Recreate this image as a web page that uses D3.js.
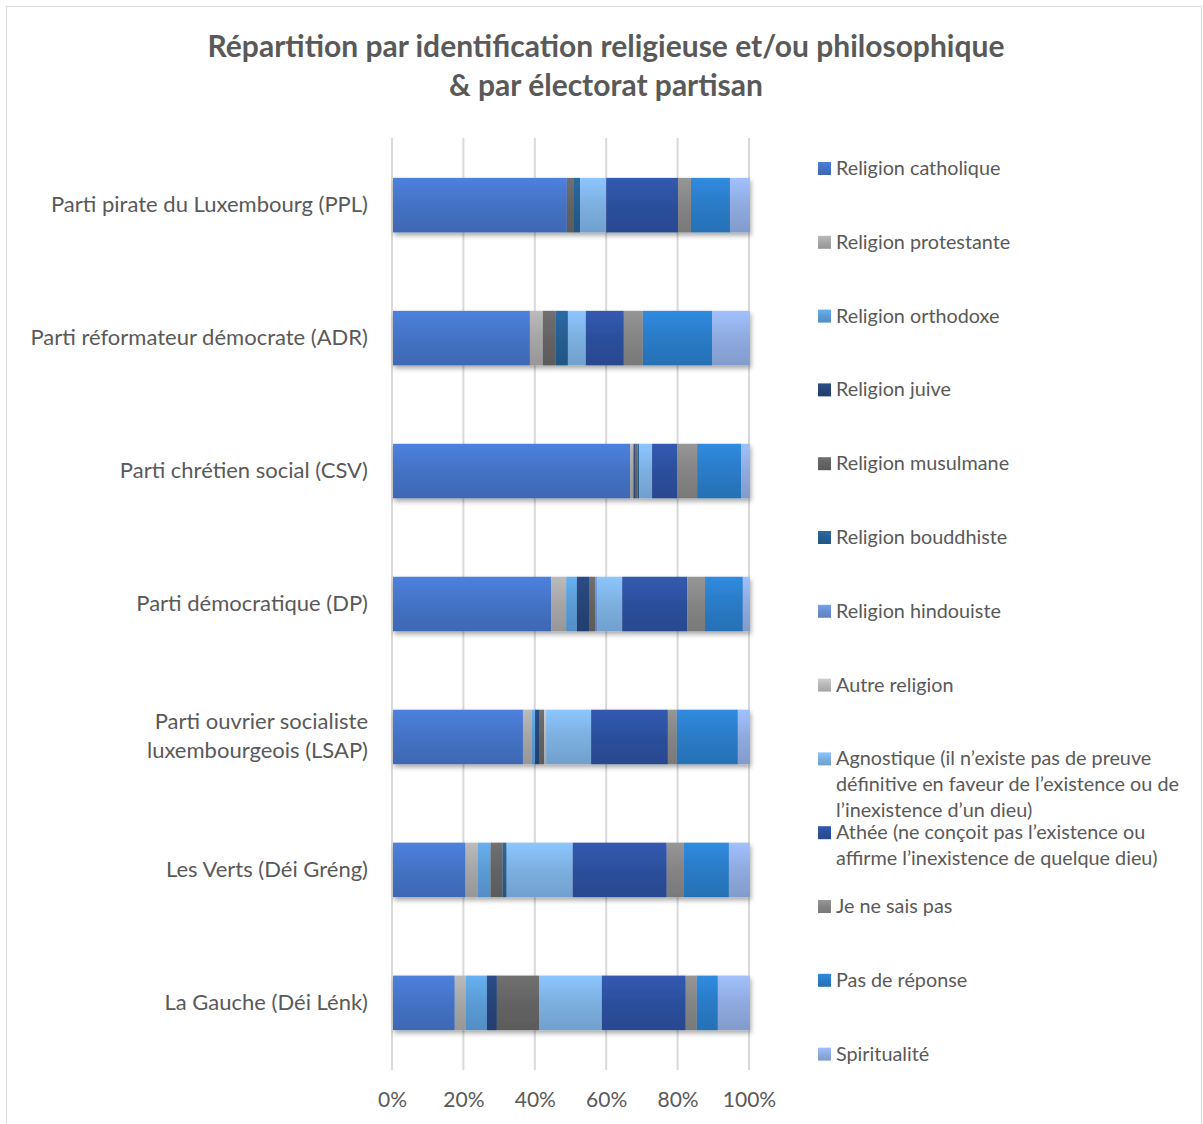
<!doctype html>
<html lang="fr">
<head>
    <meta charset="UTF-8">
    <script src="https://cdnjs.cloudflare.com/ajax/libs/d3/7.8.5/d3.min.js"></script>
    <title>Répartition par identification religieuse</title>
    <style>
        body { margin: 0; background: #fff; }
        text { font-family: Lato, "Open Sans", sans-serif; fill: #595959; }
    </style>
</head>
<body>
<div id="chart"></div>

<script>
    const partis = [
        "Parti pirate du Luxembourg (PPL)",
        "Parti réformateur démocrate (ADR)",
        "Parti chrétien social (CSV)",
        "Parti démocratique (DP)",
        "Parti ouvrier socialiste luxembourgeois (LSAP)",
        "Les Verts (Déi Gréng)",
        "La Gauche (Déi Lénk)"
    ];

    const seriesNames = [
        "Religion catholique",
        "Religion protestante",
        "Religion orthodoxe",
        "Religion juive",
        "Religion musulmane",
        "Religion bouddhiste",
        "Religion hindouiste",
        "Autre religion",
        "Agnostique (il n’existe pas de preuve définitive en faveur de l’existence ou de l’inexistence d’un dieu)",
        "Athée (ne conçoit pas l’existence ou affirme l’inexistence de quelque dieu)",
        "Je ne sais pas",
        "Pas de réponse",
        "Spiritualité"
    ];

    // values per series, in the order of partis (%)
    const catholique  = [48.6, 38.2, 66.4, 44.3, 36.4, 20.3, 17.3];
    const protestante = [0.0, 3.6, 0.9, 4.2, 2.5, 3.4, 3.1];
    const orthodoxe   = [0.0, 0.0, 0.0, 3.0, 0.9, 3.6, 5.9];
    const juive       = [0.0, 0.0, 0.4, 3.4, 1.1, 0.0, 2.8];
    const musulmane   = [2.0, 3.5, 0.8, 1.7, 1.4, 3.4, 11.8];
    const bouddhiste  = [1.7, 3.5, 0.4, 0.0, 0.0, 1.1, 0.0];
    const hindouiste  = [0.0, 0.0, 0.0, 0.6, 0.0, 0.0, 0.0];
    const autre       = [0.0, 0.0, 0.0, 0.0, 0.6, 0.0, 0.0];
    const agnostique  = [7.3, 5.0, 3.6, 7.0, 12.6, 18.5, 17.6];
    const athee       = [20.1, 10.6, 7.0, 18.2, 21.5, 26.3, 23.5];
    const nsp         = [3.6, 5.3, 5.6, 5.0, 2.5, 4.8, 3.1];
    const pasReponse  = [10.9, 19.3, 12.3, 10.6, 17.1, 12.6, 5.9];
    const spiritualite = [5.6, 10.6, 2.5, 2.0, 3.4, 5.9, 9.0];

    const tickValues = [0, 0.2, 0.4, 0.6, 0.8, 1];

    const colors = ["#4472c4", "#a5a5a5", "#5b9bd5", "#264478", "#636363", "#255e91",
        "#698ed0", "#b7b7b7", "#7cafe0", "#2c4f9c", "#848484", "#2a7bc6", "#8eaadf"];

    const allSeries = [catholique, protestante, orthodoxe, juive, musulmane, bouddhiste,
        hindouiste, autre, agnostique, athee, nsp, pasReponse, spiritualite];

    const table = partis.map((p, i) => {
        const row = {parti: p};
        seriesNames.forEach((s, j) => row[s] = allSeries[j][i]);
        return row;
    });

    const W = 1203, H = 1124;
    const plot = {left: 392, right: 749, top: 138, bottom: 1070};

    const svg = d3.select("#chart").append("svg")
        .attr("width", W)
        .attr("height", H);

    const defs = svg.append("defs");
    colors.forEach((c, i) => {
        const g = defs.append("linearGradient")
            .attr("id", "grad" + i)
            .attr("x1", 0).attr("y1", 0).attr("x2", 0).attr("y2", 1);
        g.append("stop").attr("offset", "0%").attr("stop-color", d3.color(c).brighter(0.35));
        g.append("stop").attr("offset", "50%").attr("stop-color", c);
        g.append("stop").attr("offset", "100%").attr("stop-color", d3.color(c).darker(0.25));
    });
    const shadow = defs.append("filter").attr("id", "shadow")
        .attr("x", "-5%").attr("y", "-20%").attr("width", "115%").attr("height", "150%");
    shadow.append("feDropShadow")
        .attr("dx", 1).attr("dy", 3).attr("stdDeviation", 2.5)
        .attr("flood-color", "#000").attr("flood-opacity", 0.35);

    // border
    svg.append("rect")
        .attr("x", 6.5).attr("y", 6.5)
        .attr("width", W - 8).attr("height", H)
        .attr("fill", "none").attr("stroke", "#d9d9d9");

    // title
    svg.append("text")
        .attr("x", 606).attr("y", 57)
        .attr("text-anchor", "middle")
        .style("font-size", "30px").style("font-weight", "bold")
        .text("Répartition par identification religieuse et/ou philosophique");
    svg.append("text")
        .attr("x", 606).attr("y", 96)
        .attr("text-anchor", "middle")
        .style("font-size", "30px").style("font-weight", "bold")
        .text("& par électorat partisan");

    const x = d3.scaleLinear().domain([0, 1]).range([plot.left, plot.right]);
    const y = d3.scaleBand().domain(partis).range([plot.top, plot.bottom]).paddingInner(0.59).paddingOuter(0.3);

    // gridlines
    svg.append("g")
        .selectAll("line")
        .data(tickValues)
        .join("line")
        .attr("x1", d => x(d)).attr("x2", d => x(d))
        .attr("y1", plot.top).attr("y2", plot.bottom)
        .attr("stroke", "#d9d9d9").attr("stroke-width", 2);

    // x axis
    const xAxis = svg.append("g")
        .attr("transform", `translate(0,${plot.bottom})`)
        .call(d3.axisBottom(x).tickValues(tickValues).tickFormat(d3.format(".0%")).tickSize(0).tickPadding(22));
    xAxis.select(".domain").remove();
    xAxis.selectAll("text").style("font-size", "21px").attr("fill", "#595959").style("font-family", "Lato, sans-serif");

    // stacked bars
    const stack = d3.stack().keys(seriesNames).offset(d3.stackOffsetExpand);
    const stacked = stack(table);

    const barsG = svg.append("g").attr("filter", "url(#shadow)");
    barsG.selectAll("g")
        .data(stacked)
        .join("g")
        .attr("fill", (d, i) => `url(#grad${i})`)
        .selectAll("rect")
        .data(d => d)
        .join("rect")
        .attr("x", d => x(d[0]) + 1)
        .attr("width", d => Math.max(0, x(d[1]) - x(d[0])))
        .attr("y", d => y(d.data.parti))
        .attr("height", y.bandwidth());

    // category labels
    const catLines = {
        "Parti ouvrier socialiste luxembourgeois (LSAP)": ["Parti ouvrier socialiste", "luxembourgeois (LSAP)"]
    };
    const yLab = svg.append("g");
    partis.forEach(p => {
        const lines = catLines[p] || [p];
        const cy = y(p) + y.bandwidth() / 2;
        const t = yLab.append("text")
            .attr("text-anchor", "end")
            .style("font-size", "22px");
        lines.forEach((l, k) => {
            t.append("tspan")
                .attr("x", 368)
                .attr("y", cy + 7 + (k - (lines.length - 1) / 2) * 29)
                .text(l);
        });
    });

    // legend
    const legend = svg.append("g");
    const maxW = 352;
    seriesNames.forEach((s, i) => {
        const ly = 169 + i * 73.8;
        legend.append("rect")
            .attr("x", 818).attr("y", ly - 7)
            .attr("width", 13).attr("height", 13)
            .attr("fill", `url(#grad${i})`);
        const t = legend.append("text")
            .attr("x", 836).attr("y", ly + 6)
            .style("font-size", "19.8px");
        const words = s.split(" ");
        let line = [], k = 0;
        let ts = t.append("tspan").attr("x", 836).attr("y", ly + 6);
        words.forEach(w => {
            line.push(w);
            ts.text(line.join(" "));
            if (ts.node().getComputedTextLength() > maxW && line.length > 1) {
                line.pop();
                ts.text(line.join(" "));
                line = [w];
                k++;
                ts = t.append("tspan").attr("x", 836).attr("y", ly + 6 + k * 26).text(w);
            }
        });
    });
</script>
</body>
</html>
